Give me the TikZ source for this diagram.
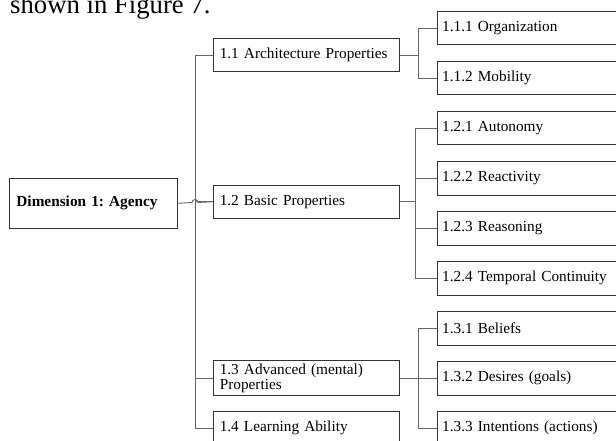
\documentclass[tikz,border=0pt]{standalone}
\usepackage{fontspec}
\setmainfont{Liberation Serif}
\usepackage{tikz}
\usetikzlibrary{calc}
\frenchspacing

\begin{document}
\begin{tikzpicture}[x=1pt,y=-1pt,
  box/.style={draw=black!80, line width=0.9pt, anchor=west, minimum height=33.3pt,
    align=left, font=\fontsize{15.3}{11.3}\selectfont},
  leftbox/.style={box, inner xsep=6pt, text width=174pt},
  rightbox/.style={box, inner xsep=5pt, text width=180pt},
  link/.style={draw=black!60, line width=0.9pt}]
  % Frame of the figure (cuts the boxes at the edges)
  \clip (0,0) rectangle (616,441);

  % Caption line above the figure
  \node[anchor=base west, inner sep=0, font=\fontsize{26.7}{30}\selectfont] (caption) at (10,13.3) {shown in Figure 7.};

  % Root
  \node[box, inner xsep=6.7pt, text width=154pt, minimum height=50pt,
    font=\fontsize{15.3}{16}\selectfont\bfseries] (dim) at (9.3,203.3) {Dimension 1: Agency};

  % Second level
  \node[leftbox] (b11) at (213.3,55)    {1.1 Architecture Properties};
  \node[leftbox] (b12) at (213.3,201.7) {1.2 Basic Properties};
  \node[leftbox] (b13) at (213.3,378.3) {1.3 Advanced (mental)\\Properties};
  \node[leftbox] (b14) at (213.3,428.3) {1.4 Learning Ability};

  % Third level
  \node[rightbox] (b111) at (436.7,28.3)  {1.1.1 Organization};
  \node[rightbox] (b112) at (436.7,78.3)  {1.1.2 Mobility};
  \node[rightbox] (b121) at (436.7,128.3) {1.2.1 Autonomy};
  \node[rightbox] (b122) at (436.7,178.3) {1.2.2 Reactivity};
  \node[rightbox] (b123) at (436.7,228.3) {1.2.3 Reasoning};
  \node[rightbox] (b124) at (436.7,278.3) {1.2.4 Temporal Continuity};
  \node[rightbox] (b131) at (436.7,328.3) {1.3.1 Beliefs};
  \node[rightbox] (b132) at (436.7,378.3) {1.3.2 Desires (goals)};
  \node[rightbox] (b133) at (436.7,428.3) {1.3.3 Intentions (actions)};

  % Junction points of the brackets
  \coordinate (trunk) at (195,202.5);
  \coordinate (hop) at (192,202.5);
  \coordinate (j11) at (418.3,55);
  \coordinate (j12) at (415,201.7);
  \coordinate (j13) at (418.3,378.3);

  % Main bracket
  \foreach \n in {b11,b12,b13,b14}
    \draw[link] (trunk) |- (\n.west);
  \draw[link] (dim.east) -- (hop) arc[start angle=180, end angle=0, radius=3pt] -- (b12.west);

  % Sub brackets
  \draw[link] (b11.east) -- (j11);
  \foreach \n in {b111,b112}
    \draw[link] (j11) |- (\n.west);
  \draw[link] (b12.east) -- (j12);
  \foreach \n in {b121,b122,b123,b124}
    \draw[link] (j12) |- (\n.west);
  \draw[link] (b13.east) -- (j13);
  \foreach \n in {b131,b132,b133}
    \draw[link] (j13) |- (\n.west);
\end{tikzpicture}
\end{document}
